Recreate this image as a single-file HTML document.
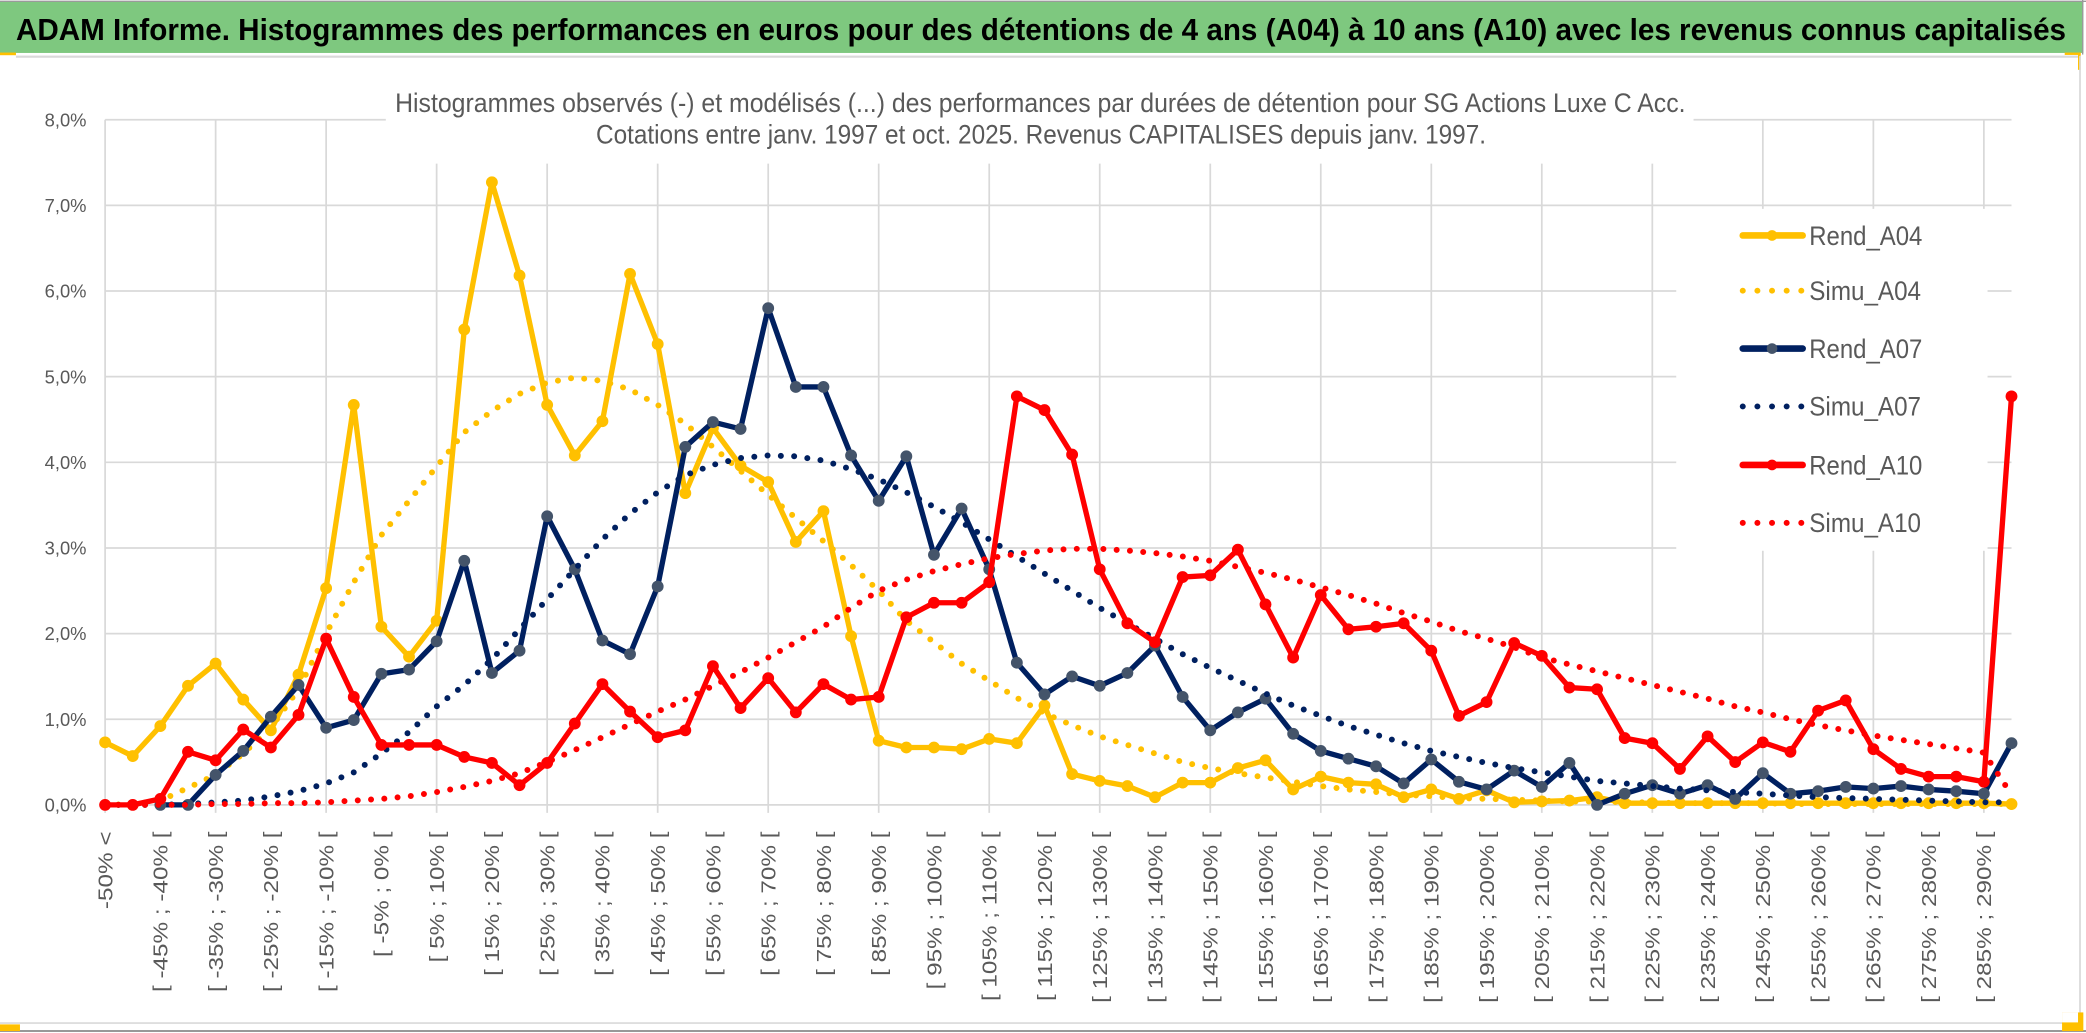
<!DOCTYPE html>
<html lang="fr">
<head>
<meta charset="utf-8">
<title>ADAM Informe - Histogrammes des performances</title>
<style>
  html, body { margin: 0; padding: 0; background: #ffffff; }
  body { width: 2086px; height: 1033px; overflow: hidden; }
  svg { display: block; }
  text { font-family: "Liberation Sans", "DejaVu Sans", sans-serif; }
</style>
</head>
<body>
<svg id="chart" xmlns="http://www.w3.org/2000/svg" width="2086" height="1033" viewBox="0 0 1568 776.47" preserveAspectRatio="none">
  <rect x="0" y="0" width="1568" height="776.47" fill="#ffffff"/>
  <rect x="0" y="1.5" width="1566" height="38.3" fill="#7ec87f"/>
  <line x1="0" y1="1" x2="1568" y2="1" stroke="#9a9a9a" stroke-width="1"/>
  <line x1="1565.5" y1="0" x2="1565.5" y2="41" stroke="#9a9a9a" stroke-width="1"/>
  <line x1="12" y1="42.6" x2="1564" y2="42.6" stroke="#d9d9d9" stroke-width="1.6"/>
  <rect x="0" y="39.5" width="12" height="2" fill="#ffc000"/>
  <rect x="1552" y="39.5" width="12" height="1.8" fill="#ffc000"/>
  <rect x="1562" y="39.5" width="2" height="13" fill="#ffc000"/>
  <line x1="1563.5" y1="42" x2="1563.5" y2="769" stroke="#d9d9d9" stroke-width="1.3"/>
  <line x1="0" y1="769" x2="1564" y2="769" stroke="#d9d9d9" stroke-width="1.3"/>
  <line x1="0" y1="775" x2="1568" y2="775" stroke="#8a8a8a" stroke-width="1.3"/>
  <rect x="0" y="770" width="15" height="5" fill="#ffc000"/>
  <rect x="1550" y="761" width="16" height="14" fill="#ffc000"/>
  <rect x="1550" y="761" width="12" height="7.5" fill="#ffffff"/>
  <text x="12" y="30" font-size="23" font-weight="bold" fill="#000000" textLength="1541" lengthAdjust="spacingAndGlyphs">ADAM Informe. Histogrammes des performances en euros pour des détentions de 4 ans (A04) à 10 ans (A10) avec les revenus connus capitalisés</text>

  <g id="grid"></g>
  <g id="yaxis"></g>
  <g id="xaxis"></g>

  <rect x="290" y="60" width="983" height="63" fill="#ffffff"/>
  <text x="297" y="84" font-size="20" fill="#595959" textLength="970" lengthAdjust="spacingAndGlyphs">Histogrammes observés (-) et modélisés (...) des performances par durées de détention pour SG Actions Luxe C Acc.</text>
  <text x="448" y="108" font-size="20" fill="#595959" textLength="669" lengthAdjust="spacingAndGlyphs">Cotations entre janv. 1997 et oct. 2025. Revenus CAPITALISES depuis janv. 1997.</text>

  <rect x="1260" y="157" width="234" height="257" fill="#ffffff"/>
  <g id="legend"></g>
  <g id="series"></g>
</svg>

<script>
const categories = ["-50% <","[ -50% ; -45% [","[ -45% ; -40% [","[ -40% ; -35% [","[ -35% ; -30% [","[ -30% ; -25% [","[ -25% ; -20% [","[ -20% ; -15% [","[ -15% ; -10% [","[ -10% ; -5% [","[ -5% ; 0% [","[ 0% ; 5% [","[ 5% ; 10% [","[ 10% ; 15% [","[ 15% ; 20% [","[ 20% ; 25% [","[ 25% ; 30% [","[ 30% ; 35% [","[ 35% ; 40% [","[ 40% ; 45% [","[ 45% ; 50% [","[ 50% ; 55% [","[ 55% ; 60% [","[ 60% ; 65% [","[ 65% ; 70% [","[ 70% ; 75% [","[ 75% ; 80% [","[ 80% ; 85% [","[ 85% ; 90% [","[ 90% ; 95% [","[ 95% ; 100% [","[ 100% ; 105% [","[ 105% ; 110% [","[ 110% ; 115% [","[ 115% ; 120% [","[ 120% ; 125% [","[ 125% ; 130% [","[ 130% ; 135% [","[ 135% ; 140% [","[ 140% ; 145% [","[ 145% ; 150% [","[ 150% ; 155% [","[ 155% ; 160% [","[ 160% ; 165% [","[ 165% ; 170% [","[ 170% ; 175% [","[ 175% ; 180% [","[ 180% ; 185% [","[ 185% ; 190% [","[ 190% ; 195% [","[ 195% ; 200% [","[ 200% ; 205% [","[ 205% ; 210% [","[ 210% ; 215% [","[ 215% ; 220% [","[ 220% ; 225% [","[ 225% ; 230% [","[ 230% ; 235% [","[ 235% ; 240% [","[ 240% ; 245% [","[ 245% ; 250% [","[ 250% ; 255% [","[ 255% ; 260% [","[ 260% ; 265% [","[ 265% ; 270% [","[ 270% ; 275% [","[ 275% ; 280% [","[ 280% ; 285% [","[ 285% ; 290% [","290% <="];

const rendA04 = [0.73,0.57,0.92,1.39,1.65,1.23,0.87,1.52,2.53,4.67,2.08,1.73,2.15,5.55,7.27,6.18,4.67,4.08,4.48,6.20,5.38,3.64,4.40,3.96,3.77,3.07,3.43,1.97,0.75,0.67,0.67,0.65,0.77,0.72,1.16,0.36,0.28,0.22,0.09,0.26,0.26,0.43,0.52,0.18,0.33,0.26,0.24,0.09,0.18,0.07,0.17,0.03,0.04,0.05,0.09,0.02,0.02,0.02,0.02,0.02,0.02,0.02,0.02,0.02,0.02,0.02,0.02,0.02,0.02,0.01];
const simuA04 = [0.00,0.01,0.05,0.20,0.35,0.60,0.90,1.35,2.00,2.60,3.15,3.55,3.95,4.35,4.60,4.80,4.93,4.99,4.95,4.85,4.67,4.45,4.18,3.90,3.62,3.35,3.08,2.80,2.50,2.15,1.90,1.65,1.45,1.25,1.07,0.93,0.80,0.70,0.60,0.50,0.43,0.37,0.32,0.27,0.22,0.18,0.15,0.12,0.10,0.08,0.07,0.06,0.05,0.04,0.04,0.03,0.03,0.02,0.02,0.02,0.02,0.01,0.01,0.01,0.01,0.01,0.01,0.01,0.01,0.01];
const rendA07 = [null,null,0.00,0.00,0.35,0.63,1.03,1.40,0.90,0.99,1.53,1.58,1.91,2.85,1.54,1.80,3.37,2.75,1.92,1.76,2.55,4.18,4.47,4.39,5.80,4.88,4.88,4.08,3.55,4.07,2.92,3.46,2.75,1.66,1.29,1.50,1.39,1.54,1.86,1.26,0.87,1.08,1.24,0.83,0.63,0.54,0.45,0.25,0.53,0.27,0.18,0.40,0.21,0.49,0.00,0.13,0.23,0.13,0.23,0.07,0.37,0.13,0.16,0.21,0.19,0.22,0.18,0.16,0.13,0.72];
const simuA07 = [0.00,0.00,0.00,0.01,0.03,0.05,0.10,0.16,0.25,0.38,0.60,0.85,1.15,1.40,1.70,2.05,2.40,2.75,3.10,3.40,3.65,3.85,3.97,4.05,4.08,4.07,4.02,3.92,3.80,3.65,3.48,3.30,3.10,2.90,2.70,2.50,2.30,2.12,1.94,1.76,1.60,1.45,1.30,1.16,1.04,0.92,0.82,0.72,0.63,0.56,0.49,0.43,0.38,0.33,0.28,0.25,0.22,0.19,0.17,0.15,0.13,0.11,0.09,0.08,0.07,0.06,0.05,0.04,0.03,0.03];
const rendA10 = [0.00,0.00,0.07,0.62,0.52,0.88,0.67,1.05,1.94,1.26,0.70,0.70,0.70,0.56,0.49,0.23,0.49,0.95,1.41,1.09,0.79,0.87,1.62,1.13,1.48,1.08,1.41,1.23,1.26,2.19,2.36,2.36,2.60,4.77,4.61,4.09,2.75,2.12,1.90,2.66,2.68,2.98,2.34,1.72,2.45,2.05,2.08,2.12,1.80,1.04,1.20,1.89,1.74,1.37,1.35,0.78,0.72,0.42,0.80,0.50,0.73,0.62,1.10,1.22,0.65,0.42,0.33,0.33,0.27,4.77];
const simuA10 = [0.00,0.00,0.00,0.00,0.01,0.01,0.02,0.02,0.03,0.05,0.07,0.10,0.15,0.21,0.28,0.37,0.50,0.64,0.79,0.94,1.09,1.23,1.39,1.55,1.72,1.90,2.08,2.30,2.50,2.63,2.73,2.81,2.88,2.93,2.97,2.99,2.99,2.97,2.94,2.90,2.85,2.78,2.71,2.63,2.54,2.45,2.35,2.24,2.14,2.03,1.94,1.84,1.72,1.64,1.56,1.48,1.40,1.32,1.24,1.15,1.08,1.00,0.93,0.87,0.81,0.76,0.71,0.66,0.61,0.12];
const yTickValues = [0,1,2,3,4,5,6,7,8];
const yTickLabels = ["0,0%","1,0%","2,0%","3,0%","4,0%","5,0%","6,0%","7,0%","8,0%"];
const seriesNames = ["Rend_A04","Simu_A04","Rend_A07","Simu_A07","Rend_A10","Simu_A10"];

const NS = "http://www.w3.org/2000/svg";
const X0 = 79, X1 = 1512, Y0 = 605, Y8 = 90;
const yMax = 8;
function xPos(i) { return X0 + i * (X1 - X0) / (categories.length - 1); }
function yPos(v) { return Y0 - v * (Y0 - Y8) / yMax; }
function mk(tag, attrs, parent) {
  const el = document.createElementNS(NS, tag);
  for (const k in attrs) el.setAttribute(k, attrs[k]);
  parent.appendChild(el);
  return el;
}

const grid = document.getElementById("grid");
const yaxis = document.getElementById("yaxis");
const xaxis = document.getElementById("xaxis");

yTickValues.forEach((v, k) => {
  const gl = mk("line", {x1: X0, x2: X1, y1: yPos(v), y2: yPos(v), stroke: "#d9d9d9", "stroke-width": 1.3}, grid);
  
  
  const t = mk("text", {x: 65, y: yPos(v) + 5, "font-size": 13.8, fill: "#595959", "text-anchor": "end"}, yaxis);
  t.textContent = yTickLabels[k];
  
  
});

categories.forEach((c, i) => {
  if (i % 4 === 0 && i < categories.length - 1) {
    const vl = mk("line", {x1: xPos(i), x2: xPos(i), y1: Y8, y2: Y0 + 6, stroke: "#d9d9d9", "stroke-width": 1.3}, grid);
    
    
  }
  if (i % 2 === 0 && i < categories.length - 1) {
    const x = xPos(i) + 5.5;
    const t = mk("text", {transform: "translate(" + x + ",625) rotate(-90) scale(1.17,1)", "font-size": 15.6, fill: "#595959", "text-anchor": "end"}, xaxis);
    t.textContent = c;
    
    
  }
});

const seriesG = document.getElementById("series");
const COL_Y = "#ffc000", COL_B = "#002060", COL_R = "#ff0000", MARK_B = "#44546a";

function drawSolid(vals, color, markColor, name) {
  const g = mk("g", {}, seriesG);
  
  
  let d = "", pen = false;
  vals.forEach((v, i) => {
    if (v === null) { pen = false; return; }
    d += (pen ? "L" : "M") + xPos(i).toFixed(2) + " " + yPos(v).toFixed(2) + " ";
    pen = true;
  });
  const p = mk("path", {d: d, fill: "none", stroke: color, "stroke-width": 4, "stroke-linejoin": "round", "stroke-linecap": "round"}, g);
  
  
  vals.forEach((v, i) => {
    if (v === null) return;
    const c = mk("circle", {cx: xPos(i), cy: yPos(v), r: 4.2, fill: markColor, stroke: markColor, "stroke-width": 0.5}, g);
    
    
  });
}
function drawDotted(vals, color, name) {
  let d = "";
  vals.forEach((v, i) => {
    d += (i ? "L" : "M") + xPos(i).toFixed(2) + " " + yPos(v).toFixed(2) + " ";
  });
  const p = mk("path", {d: d, fill: "none", stroke: color, "stroke-width": 4.5, "stroke-linecap": "round", "stroke-dasharray": "0 10", "stroke-linejoin": "round"}, seriesG);
  
  
}

drawSolid(rendA04, COL_Y, COL_Y, "series-rend-a04");
drawDotted(simuA04, COL_Y, "series-simu-a04");
drawSolid(rendA07, COL_B, MARK_B, "series-rend-a07");
drawDotted(simuA07, COL_B, "series-simu-a07");
drawSolid(rendA10, COL_R, COL_R, "series-rend-a10");
drawDotted(simuA10, COL_R, "series-simu-a10");

const legend = document.getElementById("legend");
const legColors = [COL_Y, COL_Y, COL_B, COL_B, COL_R, COL_R];
const legMarks = [COL_Y, null, MARK_B, null, COL_R, null];
const legY = [177, 218.5, 262, 305.5, 349.5, 393];
seriesNames.forEach((n, k) => {
  const y = legY[k];
  const g = mk("g", {}, legend);
  
  
  if (legMarks[k]) {
    mk("line", {x1: 1310, x2: 1355, y1: y, y2: y, stroke: legColors[k], "stroke-width": 5, "stroke-linecap": "round"}, g);
    mk("circle", {cx: 1332, cy: y, r: 4, fill: legMarks[k]}, g);
  } else {
    mk("line", {x1: 1310, x2: 1356, y1: y, y2: y, stroke: legColors[k], "stroke-width": 4.5, "stroke-linecap": "round", "stroke-dasharray": "0 11"}, g);
  }
  const t = mk("text", {x: 1360, y: y + 7, "font-size": 20, fill: "#595959", textLength: (n.indexOf("Rend") === 0 ? 85 : 84), lengthAdjust: "spacingAndGlyphs"}, g);
  t.textContent = n;
  
  
});
</script>
</body>
</html>
